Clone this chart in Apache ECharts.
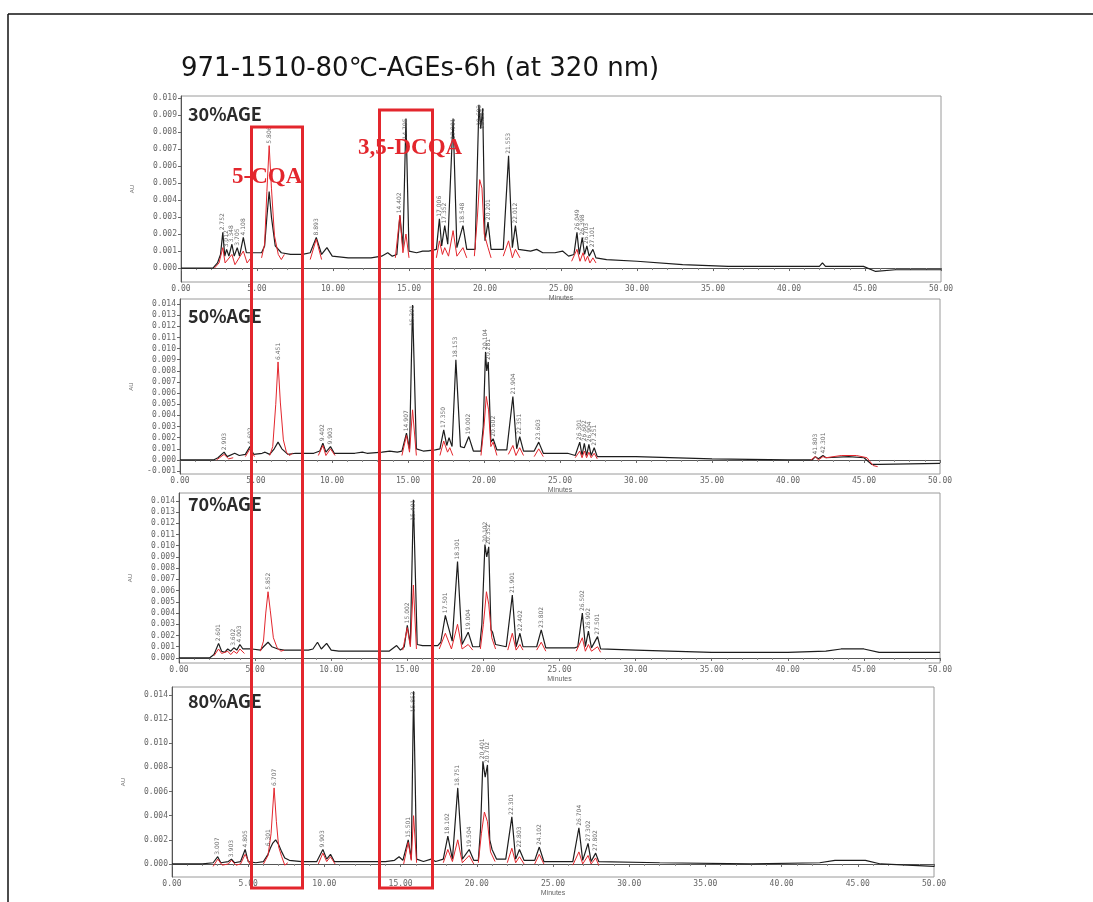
<!DOCTYPE html>
<html>
<head>
<meta charset="utf-8">
<script src="https://cdn.jsdelivr.net/npm/echarts@6/dist/echarts.min.js"></script>
<style>
  html, body { margin: 0; padding: 0; background: #fff; }
  #chart { width: 1093px; height: 902px; }
</style>
</head>
<body>
<div id="chart"></div>
<script>
// 30%AGE - black trace [min, AU]
const black30 = [[0,0],[2.1,0],[2.4,0.0003],[2.6,0.0008],[2.75,0.0021],[2.88,0.0007],[3.0,0.0011],[3.15,0.0007],[3.35,0.0014],[3.5,0.0007],[3.7,0.0012],[3.85,0.0007],[4.1,0.0018],[4.3,0.0009],[4.8,0.0009],[5.3,0.0009],[5.5,0.0013],[5.65,0.0030],[5.8,0.0045],[5.95,0.0030],[6.2,0.0013],[6.6,0.0009],[7.2,0.0008],[8.0,0.0008],[8.5,0.0009],[8.9,0.0018],[9.25,0.0008],[9.6,0.0012],[9.95,0.0007],[11,0.0006],[12.5,0.0006],[13.2,0.0007],[13.6,0.0009],[13.9,0.0007],[14.2,0.0008],[14.4,0.0031],[14.6,0.0012],[14.8,0.0088],[15.0,0.0010],[15.5,0.0009],[15.9,0.0010],[16.3,0.0010],[16.8,0.0011],[17.0,0.0029],[17.15,0.0013],[17.35,0.0025],[17.55,0.0014],[17.9,0.0088],[18.15,0.0012],[18.55,0.0025],[18.8,0.0011],[19.35,0.0011],[19.6,0.0096],[19.72,0.0082],[19.85,0.0094],[20.0,0.0016],[20.2,0.0027],[20.4,0.0011],[21.2,0.0011],[21.55,0.0066],[21.8,0.0012],[22.0,0.0025],[22.2,0.0011],[23.0,0.0010],[23.4,0.0011],[23.8,0.0009],[24.6,0.0009],[25.1,0.0010],[25.5,0.0007],[25.85,0.0008],[26.05,0.0021],[26.2,0.0008],[26.4,0.0018],[26.55,0.0008],[26.7,0.0013],[26.85,0.0007],[27.1,0.0011],[27.3,0.0006],[28,0.0005],[30,0.0004],[33,0.0002],[36,0.0001],[40,0.0001],[42,0.0001],[42.2,0.0003],[42.4,0.0001],[44.9,0.0001],[45.7,-0.0002],[47,-0.0001],[50,-0.0001]];
const red30 = [
  [[2.2,0],[2.5,0.0003],[2.75,0.0012],[2.9,0.0003],[3.35,0.0008],[3.55,0.0002],[4.1,0.0010],[4.35,0.0003],[4.6,0.0006]],
  [[5.3,0.0006],[5.5,0.0014],[5.65,0.0045],[5.8,0.0072],[5.95,0.0047],[6.15,0.0019],[6.4,0.0008],[6.6,0.0005],[6.8,0.0008]],
  [[8.5,0.0005],[8.9,0.0017],[9.25,0.0005]],
  [[14.1,0.0006],[14.4,0.0031],[14.6,0.0009],[14.8,0.0020],[15.0,0.0006]],
  [[16.8,0.0006],[17.0,0.0016],[17.2,0.0008],[17.35,0.0012],[17.6,0.0007],[17.9,0.0022],[18.15,0.0007],[18.55,0.0012],[18.8,0.0006]],
  [[19.3,0.0007],[19.5,0.0030],[19.65,0.0052],[19.8,0.0047],[19.95,0.0020],[20.2,0.0012],[20.4,0.0006]],
  [[21.2,0.0007],[21.55,0.0016],[21.8,0.0006],[22.0,0.0011],[22.3,0.0006]],
  [[25.7,0.0004],[26.05,0.0011],[26.25,0.0004],[26.45,0.0009],[26.6,0.0004],[26.75,0.0007],[26.9,0.0003],[27.1,0.0006],[27.3,0.0003]]
];
const peaks30 = [[2.752,0.0021],[3.012,0.0011],[3.348,0.0014],[3.705,0.0012],[4.108,0.0018],[5.806,0.0072],[8.893,0.0018],[14.402,0.0031],[14.795,0.0088],[17.006,0.0029],[17.352,0.0025],[17.901,0.0088],[18.548,0.0025],[19.603,0.0096],[19.851,0.0094],[20.201,0.0027],[21.553,0.0066],[22.012,0.0025],[26.049,0.0021],[26.398,0.0018],[26.703,0.0013],[27.101,0.0011]];

// 50%AGE
const black50 = [[0,0],[2.2,0],[2.5,0.0002],[2.9,0.0007],[3.1,0.0003],[3.6,0.0006],[3.9,0.0004],[4.3,0.0005],[4.6,0.0012],[4.85,0.0005],[5.4,0.0006],[5.6,0.0007],[5.9,0.0005],[6.2,0.0010],[6.45,0.0016],[6.7,0.0010],[7.1,0.0005],[7.6,0.0006],[8.8,0.0006],[9.2,0.0008],[9.4,0.0015],[9.6,0.0007],[9.9,0.0012],[10.15,0.0006],[11.5,0.0006],[12.0,0.0007],[12.3,0.0006],[13.3,0.0007],[13.8,0.0008],[14.3,0.0007],[14.6,0.0008],[14.9,0.0024],[15.1,0.0010],[15.3,0.0139],[15.55,0.0010],[16.0,0.0008],[16.8,0.0009],[17.1,0.0010],[17.35,0.0027],[17.55,0.0013],[17.7,0.0020],[17.9,0.0012],[18.15,0.0090],[18.45,0.0012],[18.7,0.0011],[19.0,0.0021],[19.3,0.0008],[19.8,0.0008],[19.95,0.0030],[20.1,0.0097],[20.18,0.0080],[20.28,0.0088],[20.45,0.0016],[20.6,0.0019],[20.85,0.0009],[21.5,0.0009],[21.9,0.0057],[22.15,0.0010],[22.35,0.0021],[22.6,0.0008],[23.3,0.0008],[23.6,0.0016],[23.9,0.0006],[25.5,0.0006],[26.0,0.0004],[26.3,0.0016],[26.45,0.0004],[26.6,0.0015],[26.75,0.0004],[26.9,0.0014],[27.05,0.0004],[27.25,0.0011],[27.45,0.0003],[30,0.0003],[35,0.0001],[40,0.0000],[41.6,0.0000],[41.8,0.0003],[42.0,0.0001],[42.3,0.0004],[42.5,0.0002],[44,0.0003],[45,0.0002],[45.5,-0.0004],[46,-0.0004],[50,-0.0003]];
const red50 = [
  [[2.4,0],[2.6,0.0002],[2.9,0.0005],[3.2,0.0001],[3.5,0.0002]],
  [[4.3,0.0003],[4.6,0.0010],[4.9,0.0003]],
  [[5.9,0.0004],[6.1,0.0012],[6.3,0.0050],[6.45,0.0088],[6.6,0.0052],[6.8,0.0018],[7.0,0.0007],[7.2,0.0004],[7.4,0.0006]],
  [[9.1,0.0004],[9.4,0.0013],[9.6,0.0004],[9.9,0.0010],[10.2,0.0004]],
  [[14.6,0.0004],[14.9,0.0022],[15.1,0.0007],[15.3,0.0045],[15.55,0.0004]],
  [[17.1,0.0004],[17.35,0.0017],[17.6,0.0007],[17.75,0.0011],[17.95,0.0004]],
  [[19.8,0.0004],[20.0,0.0030],[20.15,0.0057],[20.3,0.0045],[20.45,0.0012],[20.6,0.0016],[20.85,0.0004]],
  [[21.6,0.0005],[21.9,0.0013],[22.1,0.0004],[22.35,0.0011],[22.6,0.0004]],
  [[23.3,0.0003],[23.6,0.0010],[23.9,0.0003]],
  [[26.0,0.0002],[26.3,0.0008],[26.45,0.0002],[26.6,0.0008],[26.75,0.0002],[26.9,0.0007],[27.05,0.0002],[27.25,0.0006],[27.45,0.0001]],
  [[41.5,0],[41.8,0.0003],[42.0,0],[42.3,0.0003],[42.5,0.0002],[43.5,0.0004],[44.5,0.0004],[45.2,0.0002],[45.6,-0.0005],[45.9,-0.0006]]
];
const peaks50 = [[2.903,0.0007],[4.602,0.0012],[6.451,0.0088],[9.402,0.0015],[9.903,0.0012],[14.907,0.0024],[15.301,0.0139],[17.350,0.0027],[18.153,0.0090],[19.002,0.0021],[20.104,0.0097],[20.281,0.0088],[20.602,0.0019],[21.904,0.0057],[22.351,0.0021],[23.603,0.0016],[26.301,0.0016],[26.602,0.0015],[26.904,0.0014],[27.251,0.0011],[41.803,0.0003],[42.301,0.0004]];

// 70%AGE
const black70 = [[0,0],[2.0,0],[2.3,0.0003],[2.6,0.0013],[2.8,0.0006],[3.0,0.0005],[3.2,0.0008],[3.4,0.0006],[3.6,0.0009],[3.8,0.0007],[4.0,0.0012],[4.2,0.0008],[4.8,0.0008],[5.35,0.0007],[5.55,0.0010],[5.85,0.0014],[6.1,0.0010],[6.5,0.0008],[6.9,0.0007],[8.5,0.0007],[8.8,0.0008],[9.1,0.0014],[9.35,0.0008],[9.7,0.0013],[10.0,0.0007],[10.5,0.0006],[13.8,0.0006],[14.3,0.0011],[14.55,0.0007],[14.8,0.0010],[15.0,0.0029],[15.2,0.0012],[15.4,0.0141],[15.65,0.0012],[16.0,0.0011],[17.0,0.0011],[17.2,0.0014],[17.5,0.0038],[17.65,0.0030],[17.95,0.0015],[18.3,0.0086],[18.6,0.0012],[19.0,0.0023],[19.3,0.0010],[19.75,0.0010],[19.9,0.0030],[20.1,0.0101],[20.22,0.0090],[20.35,0.0099],[20.5,0.0025],[20.6,0.0023],[20.8,0.0012],[21.5,0.0010],[21.9,0.0056],[22.15,0.0010],[22.4,0.0022],[22.6,0.0010],[23.5,0.0010],[23.8,0.0025],[24.1,0.0009],[26.0,0.0009],[26.2,0.0010],[26.5,0.0040],[26.7,0.0010],[26.9,0.0024],[27.1,0.0009],[27.5,0.0019],[27.7,0.0008],[30,0.0007],[35,0.0005],[40,0.0005],[42.5,0.0006],[43.5,0.0008],[45,0.0008],[46,0.0005],[50,0.0005]];
const red70 = [
  [[2.3,0.0002],[2.6,0.0008],[2.8,0.0004],[3.2,0.0006],[3.4,0.0003],[3.6,0.0006],[3.8,0.0004],[4.0,0.0008],[4.3,0.0004]],
  [[5.35,0.0006],[5.55,0.0015],[5.7,0.0040],[5.85,0.0059],[6.0,0.0042],[6.2,0.0018],[6.45,0.0009],[6.7,0.0006],[6.9,0.0007]],
  [[14.7,0.0007],[15.0,0.0027],[15.2,0.0010],[15.4,0.0065],[15.6,0.0008]],
  [[17.1,0.0008],[17.5,0.0022],[17.9,0.0008],[18.3,0.0030],[18.6,0.0008],[19.0,0.0012],[19.3,0.0007]],
  [[19.8,0.0008],[20.0,0.0030],[20.2,0.0059],[20.35,0.0048],[20.55,0.0018],[20.8,0.0008]],
  [[21.6,0.0007],[21.9,0.0022],[22.15,0.0007],[22.4,0.0012],[22.6,0.0007]],
  [[23.5,0.0007],[23.8,0.0014],[24.1,0.0006]],
  [[26.1,0.0006],[26.5,0.0018],[26.7,0.0006],[26.9,0.0012],[27.1,0.0006],[27.5,0.0010],[27.7,0.0005]]
];
const peaks70 = [[2.601,0.0013],[3.602,0.0009],[4.003,0.0012],[5.852,0.0059],[15.002,0.0029],[15.401,0.0141],[17.501,0.0038],[18.301,0.0086],[19.004,0.0023],[20.102,0.0101],[20.352,0.0099],[21.901,0.0056],[22.402,0.0022],[23.802,0.0025],[26.502,0.0040],[26.902,0.0024],[27.501,0.0019]];

// 80%AGE
const black80 = [[0,0],[2.0,0],[2.7,0.0001],[3.0,0.0006],[3.2,0.0001],[3.7,0.0002],[3.9,0.0004],[4.1,0.0001],[4.5,0.0002],[4.8,0.0012],[5.0,0.0002],[5.5,0.0001],[6.0,0.0002],[6.3,0.0008],[6.45,0.0013],[6.6,0.0017],[6.8,0.0020],[7.0,0.0016],[7.2,0.0010],[7.4,0.0005],[7.7,0.0003],[8.5,0.0002],[9.5,0.0002],[9.9,0.0012],[10.15,0.0004],[10.4,0.0008],[10.65,0.0002],[14.0,0.0002],[14.6,0.0003],[14.9,0.0006],[15.15,0.0003],[15.5,0.0020],[15.7,0.0004],[15.85,0.0143],[16.05,0.0004],[16.5,0.0002],[17.0,0.0004],[17.3,0.0002],[17.8,0.0004],[18.1,0.0023],[18.4,0.0004],[18.75,0.0063],[19.05,0.0004],[19.5,0.0012],[19.8,0.0003],[20.1,0.0003],[20.25,0.0030],[20.4,0.0085],[20.55,0.0072],[20.7,0.0082],[20.85,0.0020],[21.0,0.0012],[21.3,0.0004],[21.9,0.0004],[22.3,0.0039],[22.55,0.0004],[22.8,0.0012],[23.1,0.0003],[23.8,0.0003],[24.1,0.0014],[24.4,0.0002],[26.3,0.0002],[26.7,0.0030],[26.95,0.0003],[27.3,0.0017],[27.5,0.0002],[27.8,0.0009],[28.0,0.0002],[32,0.0001],[38,0.0000],[42.5,0.0001],[43.5,0.0003],[45.5,0.0003],[46.5,0.0000],[50,-0.0002]];
const red80 = [
  [[2.7,-0.0002],[3.0,0.0004],[3.3,-0.0001],[3.7,0],[3.9,0.0003],[4.2,-0.0001],[4.5,0],[4.8,0.0008],[5.1,0]],
  [[6.0,0],[6.3,0.0007],[6.5,0.0025],[6.7,0.0063],[6.85,0.0035],[7.0,0.0014],[7.2,0.0006],[7.4,-0.0001],[7.6,0.0001]],
  [[9.6,0],[9.9,0.0009],[10.15,0.0002],[10.4,0.0006],[10.7,0]],
  [[15.2,0],[15.5,0.0018],[15.7,0.0003],[15.85,0.0040],[16.05,0.0001]],
  [[17.8,0.0001],[18.1,0.0012],[18.4,0.0002],[18.75,0.0020],[19.05,0.0001],[19.5,0.0007],[19.8,0]],
  [[20.1,0.0001],[20.3,0.0025],[20.5,0.0043],[20.7,0.0035],[20.9,0.0010],[21.2,0.0002]],
  [[22.0,0.0001],[22.3,0.0013],[22.55,0.0001],[22.8,0.0006],[23.1,0]],
  [[23.8,0],[24.1,0.0008],[24.4,0]],
  [[26.3,-0.0001],[26.7,0.0010],[26.95,0],[27.3,0.0007],[27.5,0],[27.8,0.0005],[28.0,-0.0001]]
];
const peaks80 = [[3.007,0.0006],[3.903,0.0004],[4.805,0.0012],[6.301,0.0013],[6.707,0.0063],[9.903,0.0012],[15.501,0.0020],[15.853,0.0143],[18.102,0.0023],[18.751,0.0063],[19.504,0.0012],[20.401,0.0085],[20.702,0.0082],[22.301,0.0039],[22.803,0.0012],[24.102,0.0014],[26.704,0.0030],[27.302,0.0017],[27.802,0.0009]];

// y tick values per panel
const ticks30 = [0,0.001,0.002,0.003,0.004,0.005,0.006,0.007,0.008,0.009,0.010];
const ticks50 = [-0.001,0,0.001,0.002,0.003,0.004,0.005,0.006,0.007,0.008,0.009,0.010,0.011,0.012,0.013,0.014];
const ticks70 = [0,0.001,0.002,0.003,0.004,0.005,0.006,0.007,0.008,0.009,0.010,0.011,0.012,0.013,0.014];
const ticks80 = [0,0.002,0.004,0.006,0.008,0.010,0.012,0.014];

const panelNames = ['30%AGE', '50%AGE', '70%AGE', '80%AGE'];

const panels = [
  { black: black30, red: red30, peaks: peaks30, ticks: ticks30, min: -0.00082, max: 0.01012,
    grid: { left: 181, top: 96, width: 760, height: 186 }, labelY: 114 },
  { black: black50, red: red50, peaks: peaks50, ticks: ticks50, min: -0.00126, max: 0.01445,
    grid: { left: 180, top: 299, width: 760, height: 175 }, labelY: 316 },
  { black: black70, red: red70, peaks: peaks70, ticks: ticks70, min: -0.00045, max: 0.0147,
    grid: { left: 179, top: 493, width: 761, height: 170 }, labelY: 504 },
  { black: black80, red: red80, peaks: peaks80, ticks: ticks80, min: -0.00108, max: 0.01466,
    grid: { left: 172, top: 687, width: 762, height: 190 }, labelY: 701 }
];

const chart = echarts.init(document.getElementById('chart'));

const grid = [], xAxis = [], yAxis = [], series = [], graphic = [];
const RED = '#e3262d';

panels.forEach((p, i) => {
  grid.push(Object.assign({ show: true, borderColor: '#9a9a9a', borderWidth: 1, backgroundColor: '#fff' }, p.grid));
  xAxis.push({
    type: 'value', gridIndex: i, min: 0, max: 50, interval: 5,
    name: 'Minutes', nameLocation: 'middle', nameGap: 13,
    nameTextStyle: { fontSize: 7, color: '#666' },
    axisLine: { lineStyle: { color: '#555', width: 1 } },
    axisTick: { length: 3, lineStyle: { color: '#666' } },
    minorTick: { show: true, splitNumber: 5, length: 2, lineStyle: { color: '#888' } },
    splitLine: { show: false },
    axisLabel: { fontSize: 8, color: '#666', margin: 3, fontFamily: 'DejaVu Sans Mono',
      formatter: v => v.toFixed(2) }
  });
  yAxis.push({
    type: 'value', gridIndex: i, min: p.min, max: p.max,
    name: 'AU', nameLocation: 'middle', nameGap: 46, nameRotate: 90,
    nameTextStyle: { fontSize: 6, color: '#666' },
    axisLine: { show: true, lineStyle: { color: '#555', width: 1 } },
    axisTick: { show: true, length: 3, customValues: p.ticks, lineStyle: { color: '#666' } },
    splitLine: { show: false },
    axisLabel: { fontSize: 8, color: '#666', margin: 4, fontFamily: 'DejaVu Sans Mono',
      customValues: p.ticks, formatter: v => v.toFixed(3) }
  });

  series.push({
    type: 'line', xAxisIndex: i, yAxisIndex: i, data: p.black,
    showSymbol: false, symbol: 'none', z: 2,
    lineStyle: { color: '#1d1d1d', width: 1.2 }
  });
  p.red.forEach(seg => {
    series.push({
      type: 'line', xAxisIndex: i, yAxisIndex: i, data: seg,
      showSymbol: false, symbol: 'none', z: 3,
      lineStyle: { color: RED, width: 1 }
    });
  });
  // retention time labels, written upward from each apex
  series.push({
    type: 'scatter', xAxisIndex: i, yAxisIndex: i, symbolSize: 0, z: 4,
    data: p.peaks.map(d => {
      const tall = d[1] > p.max * 0.8;
      return {
        value: d,
        label: tall
          ? { position: 'left', distance: 1, align: 'right', rotate: 90, verticalAlign: 'bottom', offset: [0, 4] }
          : { position: 'top', distance: 2, align: 'left', rotate: 90, verticalAlign: 'middle' }
      };
    }),
    label: { show: true, fontSize: 6, color: '#444', fontFamily: 'DejaVu Sans',
      formatter: q => q.value[0].toFixed(3) }
  });

  graphic.push({
    type: 'text', z: 50,
    style: { text: panelNames[i], x: 188, y: p.labelY, textVerticalAlign: 'middle', verticalAlign: 'middle',
      font: 'bold 18px "Noto Sans CJK KR"', fill: '#2a2a2a' }
  });
});

// page frame
graphic.push({ type: 'line', z: 60, shape: { x1: 8, y1: 14, x2: 1093, y2: 14 }, style: { stroke: '#111', lineWidth: 1.5 } });
graphic.push({ type: 'line', z: 60, shape: { x1: 8, y1: 14, x2: 8, y2: 902 }, style: { stroke: '#111', lineWidth: 1.5 } });

// highlight boxes
graphic.push({ type: 'rect', z: 70, shape: { x: 251.5, y: 127, width: 51, height: 761 },
  style: { fill: 'none', stroke: RED, lineWidth: 3 } });
graphic.push({ type: 'rect', z: 70, shape: { x: 379.5, y: 110, width: 53, height: 778 },
  style: { fill: 'none', stroke: RED, lineWidth: 3 } });
graphic.push({ type: 'text', z: 71,
  style: { text: '5-CQA', x: 232, y: 177, textVerticalAlign: 'middle', verticalAlign: 'middle',
    font: 'bold 23px "Liberation Serif"', fill: RED } });
graphic.push({ type: 'text', z: 71,
  style: { text: '3,5-DCQA', x: 358, y: 148, textVerticalAlign: 'middle', verticalAlign: 'middle',
    font: 'bold 23px "Liberation Serif"', fill: RED } });

chart.setOption({
  animation: false,
  backgroundColor: '#fff',
  title: {
    text: '971-1510-80℃-AGEs-6h (at 320 nm)', left: 176, top: 51,
    textStyle: { fontSize: 26, fontWeight: 'normal', color: '#151515', fontFamily: 'DejaVu Sans' }
  },
  grid, xAxis, yAxis, series, graphic
});
</script>
</body>
</html>
